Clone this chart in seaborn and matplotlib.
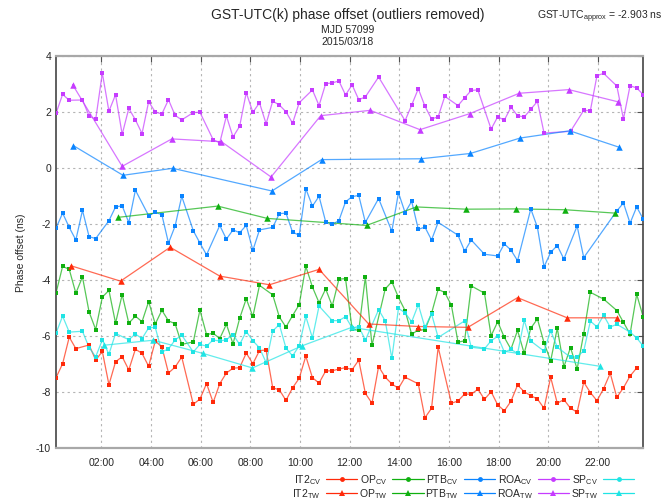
import matplotlib
matplotlib.use("Agg")
import matplotlib.pyplot as plt
from matplotlib.lines import Line2D
import pandas as pd
import seaborn as sns

# CV track schedule (minutes after 00:00 UTC), 89 tracks
cv_minutes = [10, 26, 42, 58, 74, 90, 106, 122, 138, 154,
              170, 186, 202, 218, 234, 250, 266, 282, 298, 314,
              342, 358, 374, 390, 406, 422, 438, 454, 470, 486,
              502, 518, 534, 550, 566, 582, 598, 614, 630, 646,
              662, 678, 694, 710, 726, 742, 758, 774, 790, 806,
              822, 838, 854, 870, 886, 902, 918, 934, 950, 966,
              982, 998, 1014, 1030, 1046, 1062, 1078, 1094, 1110, 1126,
              1142, 1158, 1174, 1190, 1206, 1222, 1238, 1254, 1270, 1286,
              1302, 1318, 1334, 1350, 1366, 1382, 1398, 1414, 1430]

N = None
it2_cv = [-7.48, -6.98, -6.03, -6.44, N, -6.31, -6.85, -6.54, -7.73, -6.91,
          -6.73, -7.20, -6.46, -6.61, -7.07, -6.17, -6.38, -7.31, -7.10, -6.74,
          -8.43, -8.24, -7.69, -8.36, -7.69, -7.31, -7.14, -7.12, -6.60, -6.98,
          -6.51, -6.49, -7.84, -7.91, -8.29, -7.84, -7.50, -6.71, -7.48, -7.67,
          -7.24, -7.23, -7.17, -7.12, -7.19, -6.85, -8.04, -8.39, -7.08, -7.46,
          -7.70, -7.86, -7.46, N, -7.70, -8.91, -8.57, -6.39, N, -8.39,
          -8.31, -8.06, -8.07, -7.89, -8.25, -7.98, -8.45, -8.66, -8.32, -7.74,
          -7.98, -8.12, -8.24, -8.57, -7.46, -8.39, -8.26, -8.57, -8.71, -7.64,
          -8.01, -8.30, -7.87, -7.32, -8.18, -7.84, -7.42, -7.13, N]
op_cv = [-4.46, -3.50, -3.61, -4.46, -3.88, -5.13, -5.76, -4.60, -4.36, -5.53,
         -4.51, -5.53, -5.28, -5.48, -4.76, -5.56, -5.07, -5.45, -5.55, -6.29,
         -6.20, -5.06, -5.94, -5.89, -6.08, -5.57, -6.27, -5.36, -4.66, -5.29,
         -4.18, N, -4.52, -5.31, -5.67, -5.26, -4.87, -3.50, -4.24, -4.80,
         -4.31, -4.92, -3.96, -3.94, -5.74, -5.79, -3.88, -6.32, N, -4.31,
         -4.05, -4.61, -5.08, -5.93, -5.77, -5.77, -5.18, -4.32, -4.44, -4.89,
         -6.21, -6.16, -4.20, N, -4.46, -5.98, -5.48, -6.04, -6.46, -5.79,
         -6.61, -5.71, -5.38, -6.23, -6.88, -5.71, -7.09, -6.40, -7.17, -5.90,
         -4.43, N, -4.67, N, -5.08, -5.50, -5.92, -4.50, -5.32]
ptb_cv = [-2.14, -1.60, -2.11, -2.56, -1.50, -2.44, -2.51, N, -1.87, -1.38,
          -1.34, -1.94, -0.78, N, -1.69, -1.57, -1.66, -2.67, -2.06, -1.00,
          -2.23, -2.67, -3.09, N, -2.04, -2.53, -2.20, -2.30, -2.04, -2.93,
          -2.20, N, -2.11, -1.62, -1.60, -2.28, -2.39, -0.73, -1.35, -1.00,
          -1.91, -2.00, -1.87, -1.20, -1.01, -0.97, -1.93, N, -1.08, N,
          -2.25, -0.87, -1.58, -1.18, -2.18, -2.10, -2.56, -1.93, N, N,
          -2.39, -2.96, -2.56, N, -3.07, N, -3.13, -2.70, -2.92, -3.30,
          N, -1.45, -2.11, -3.52, -3.00, -2.76, -3.24, N, -2.06, -3.19,
          N, N, N, N, -1.52, -1.24, -1.96, -1.38, -1.82]
roa_cv = [1.96, 2.64, 2.43, N, 2.44, 1.87, 1.75, 3.40, 2.04, 2.63,
          1.21, 2.14, 1.73, 1.24, 2.38, 2.01, 1.94, 2.45, 1.89, 1.73,
          1.99, 2.00, N, 1.02, 0.91, 1.87, 1.12, 1.50, 2.70, 2.00,
          2.34, 1.59, 2.40, 2.26, 2.02, 1.61, 2.34, N, 2.80, 2.24,
          3.02, 3.05, 3.12, 2.62, 2.98, 2.45, 2.55, N, 3.26, N,
          N, N, 1.70, 2.26, 2.84, 2.22, 1.76, 1.84, 2.57, N,
          2.24, 2.52, 2.78, 2.80, N, 1.40, 1.84, 1.72, 2.18, 1.88,
          1.83, 2.11, 2.39, 1.26, N, N, N, 1.32, N, 2.07,
          2.06, 3.31, 3.39, N, 2.94, 1.76, 2.95, 2.87, 2.63]
sp_cv = [-5.89, -5.28, -5.85, N, -5.82, -6.40, -6.73, -6.13, -6.64, -5.90,
         N, -6.12, -5.92, -6.08, -5.70, -5.68, -6.56, -6.45, -6.13, -5.96,
         -6.56, -6.29, -6.35, -6.13, -6.17, -6.12, -5.94, -6.29, -5.83, -6.16,
         -6.41, -6.94, -5.81, -5.58, -6.42, -6.70, -6.34, -5.29, -6.06, -4.92,
         N, -5.44, -5.44, -5.30, -5.70, -5.65, -6.14, N, -5.05, -5.45,
         -6.79, -5.00, -5.16, -5.48, -4.87, -5.68, -5.20, -6.04, N, N,
         N, -5.45, -6.39, N, -6.45, -6.16, -6.00, -6.56, -6.47, -6.61,
         -5.43, -6.17, N, -6.53, -5.80, -6.39, N, -6.75, -6.73, -6.52,
         -5.46, -5.66, -5.25, -5.67, -5.57, N, -5.85, -6.06, -6.35]

# TW sessions (minutes after 00:00 UTC)
it2_tw_min = [46, 166, 286, 406, 526, 646, 766, 886, 1006, 1126, 1246, 1366]
it2_tw = [-3.48, -4.03, -2.82, -3.85, -4.16, -3.61, -5.56, -5.65, -5.68, -4.62, -5.34, -5.34]
op_tw_min = [161, 401, 521, 761, 881, 1001, 1121, 1241, 1361]
op_tw = [-1.75, -1.35, -1.79, -2.04, -1.38, -1.46, -1.45, -1.48, -1.60]
ptb_tw_min = [52, 172, 292, 532, 652, 892, 1012, 1132, 1252, 1372]
ptb_tw = [0.81, -0.25, 0.00, -0.81, 0.31, 0.34, 0.53, 1.08, 1.34, 0.75]
roa_tw_min = [50, 170, 290, 410, 530, 650, 770, 890, 1010, 1130, 1250, 1370]
roa_tw = [2.99, 0.07, 1.05, 0.95, -0.31, 1.88, 2.07, 1.38, 1.95, 2.68, 2.81, 2.37]
sp_tw_min = [125, 245, 365, 485, 605, 725, 1325]
sp_tw = [-6.32, -6.14, -6.61, -7.13, -6.34, -5.68, -7.07]

labs = ["IT2", "OP", "PTB", "ROA", "SP"]
colors = {"IT2": "#ff2a0a", "OP": "#10b010", "PTB": "#0a84ff", "ROA": "#c63cff", "SP": "#20e4e4"}

cv_vals = {"IT2": it2_cv, "OP": op_cv, "PTB": ptb_cv, "ROA": roa_cv, "SP": sp_cv}
tw_data = {"IT2": (it2_tw_min, it2_tw), "OP": (op_tw_min, op_tw), "PTB": (ptb_tw_min, ptb_tw),
           "ROA": (roa_tw_min, roa_tw), "SP": (sp_tw_min, sp_tw)}

# uzun tablo
rows = []
for lab in labs:
    for m, v in zip(cv_minutes, cv_vals[lab]):
        rows.append((lab, "CV", m / 60.0, v))
    for m, v in zip(*tw_data[lab]):
        rows.append((lab, "TW", m / 60.0, v))
df = pd.DataFrame(rows, columns=["lab", "method", "hours", "offset"]).dropna()

sns.set_style("white")
plt.rcParams["font.family"] = ["Liberation Sans", "DejaVu Sans"]
plt.rcParams["mathtext.fontset"] = "custom"
plt.rcParams["mathtext.rm"] = "Liberation Sans"
plt.rcParams["axes.unicode_minus"] = False

fig = plt.figure(figsize=(6.69, 5.04), dpi=100)
ax = fig.add_axes([56 / 669, 1 - 448.3 / 504, (643.3 - 56) / 669, (448.3 - 56.3) / 504])

mk = {"CV": "s", "TW": "^"}
ms = {"CV": 11, "TW": 22}
for method in ["CV", "TW"]:
    for lab in labs:
        sub = df[(df["lab"] == lab) & (df["method"] == method)]
        sns.lineplot(data=sub, x="hours", y="offset", color=colors[lab], linewidth=0.9,
                     alpha=0.7, estimator=None, sort=True, ax=ax)
        sns.scatterplot(data=sub, x="hours", y="offset", color=colors[lab], marker=mk[method],
                        s=ms[method], linewidth=0, ax=ax, zorder=3)

# legend: label first, then sample
handles = []
for lab in labs:
    for method in ["CV", "TW"]:
        handles.append(Line2D([0], [0], color=colors[lab], linewidth=0.9,
                              marker="o" if method == "CV" else "^",
                              markersize=3.5 if method == "CV" else 5, markeredgewidth=0,
                              label=lab + r"$_{\rm " + method + "}$"))
fig.legend(handles=handles, ncol=5, loc="lower right", bbox_to_anchor=(0.962, -0.012),
           frameon=False, markerfirst=False, fontsize=7.5, handlelength=3.0,
           handletextpad=0.5, columnspacing=0.15, labelspacing=0.0)

ax.set_xlim(10 / 60, 1430 / 60)
ax.set_ylim(-10, 4)
ax.set_xticks(range(2, 24, 2))
ax.set_xticklabels(["%02d:00" % h for h in range(2, 24, 2)])
ax.set_yticks(range(-10, 5, 2))
ax.set_xlabel("")
ax.set_ylabel("Phase offset (ns)", fontsize=7.5, labelpad=7)
ax.tick_params(direction="in", length=4, labelsize=7.5, top=True, right=True, color="#505050")
ax.tick_params(axis="x", pad=7)
ax.grid(True, linestyle=(0, (2, 3)), color="#b4b4b4", linewidth=0.8)
for s in ["left", "right"]:
    ax.spines[s].set_color("#444444")
    ax.spines[s].set_linewidth(1.2)
for s in ["top", "bottom"]:
    ax.spines[s].set_color("#a8a8a8")
    ax.spines[s].set_linewidth(1.6)

fig.text(348 / 669, 1 - 15 / 504, "GST-UTC(k) phase offset (outliers removed)",
         ha="center", va="center", fontsize=10)
fig.text(348 / 669, 1 - 30 / 504, "MJD 57099", ha="center", va="center", fontsize=7.5)
fig.text(348 / 669, 1 - 42 / 504, "2015/03/18", ha="center", va="center", fontsize=7.5)
fig.text(662 / 669, 1 - 17 / 504, r"GST-UTC$_{\rm approx}$ = -2.903 ns",
         ha="right", va="center", fontsize=7.5)

fig.savefig("out.png", dpi=100)
